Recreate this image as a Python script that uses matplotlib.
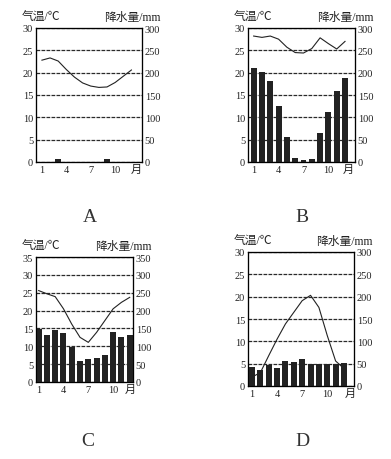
import numpy as np
import matplotlib.pyplot as plt

plt.rcParams['font.family'] = ['Liberation Serif', 'Noto Sans CJK SC']

months = np.arange(1, 13)

# A
temp_a = [22.8, 23.3, 22.6, 20.7, 19.0, 17.7, 17.0, 16.7, 16.8, 17.8, 19.2, 20.6]
rain_a = [0, 0, 6, 0, 0, 0, 0, 0, 6, 0, 0, 0]
# B
temp_b = [28.2, 27.9, 28.2, 27.5, 25.7, 24.5, 24.4, 25.4, 27.8, 26.5, 25.3, 27.0]
rain_b = [210, 202, 181, 126, 56, 10, 4, 7, 65, 112, 158, 189]
# C
temp_c = [25.6, 24.7, 23.9, 20.5, 16.2, 12.5, 11.1, 13.9, 17.2, 20.5, 22.3, 23.7]
rain_c = [148, 132, 146, 136, 99, 58, 64, 68, 77, 139, 127, 131]
# D
temp_d = [2.0, 3.0, 6.8, 10.5, 13.9, 16.5, 19.1, 20.3, 17.6, 11.3, 5.6, 3.9]
rain_d = [43, 36, 46, 40, 55, 53, 60, 49, 49, 49, 49, 52]

xticks = [1, 4, 7, 10]

W, H = 391, 460
fig = plt.figure(figsize=(W / 100, H / 100), dpi=100)
ink = '#222222'


def box(x0, y0, x1, y1):
    return [x0 / W, 1 - y1 / H, (x1 - x0) / W, (y1 - y0) / H]


def panel(rect, temp, rain, tmax, xlim, yue_x, letter, letter_xy):
    x0, y0, x1, y1 = rect
    ax = fig.add_axes(box(*rect))
    ax.bar(months, rain, width=0.72, color=ink, zorder=2)
    ax.set_xlim(*xlim)
    ax.set_ylim(0, tmax * 10)
    ax.set_xticks(xticks)
    ax.set_yticks(np.arange(0, tmax * 10 + 1, 50))
    ax.grid(axis='y', color='#2a2a2a', ls=(0, (3, 1)), lw=0.9)
    for s in ax.spines.values():
        s.set_color(ink)
        s.set_linewidth(0.9)

    ax2 = ax.twinx()
    ax2.plot(months, temp, color=ink, lw=0.8)
    ax2.set_ylim(0, tmax)
    ax2.set_yticks(np.arange(0, tmax + 1, 5))
    ax.yaxis.tick_right()
    ax2.yaxis.tick_left()
    for a in (ax, ax2):
        a.tick_params(length=0, labelsize=7.5, pad=2, colors=ink)

    ax.text(yue_x, -0.015, '月', transform=ax.get_xaxis_transform(),
            ha='center', va='top', fontsize=8, color=ink)
    fig.text((x0 - 14) / W, 1 - (y0 - 11) / H, '气温/℃', ha='left',
             va='center', fontsize=8.5, color=ink)
    fig.text((x1 + 19) / W, 1 - (y0 - 11) / H, '降水量/mm', ha='right',
             va='center', fontsize=8.5, color=ink)
    fig.text(letter_xy[0] / W, 1 - letter_xy[1] / H, letter, ha='center',
             va='center', fontsize=14, color='#333333')


panel((36, 29, 142, 163), temp_a, rain_a, 30, (0.27, 13.3), 12.6, 'A', (90, 217))
panel((248, 29, 355, 163), temp_b, rain_b, 30, (0.32, 13.2), 12.4, 'B', (302, 217))
panel((36, 258, 133, 383), temp_c, rain_c, 35, (0.68, 12.4), 12.1, 'C', (88, 442))
panel((248, 253, 354, 387), temp_d, rain_d, 30, (0.52, 13.2), 12.7, 'D', (302, 442))

fig.savefig('out.png', dpi=100)
